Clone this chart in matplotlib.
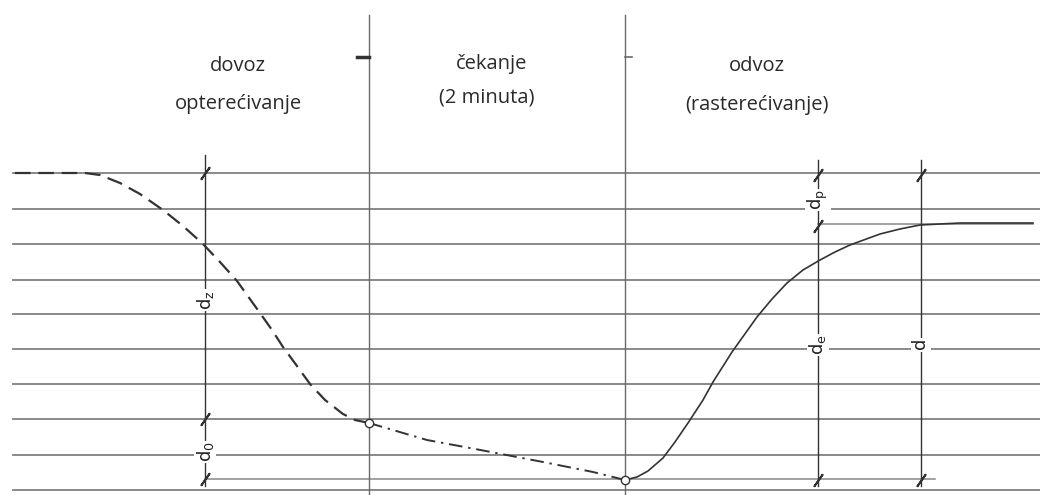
import matplotlib
matplotlib.use("Agg")
import matplotlib.pyplot as plt

# drawing units = pixels of the original sheet (x to the right, y downwards)
grid_y = [173, 209, 244, 280, 314, 349, 384, 419, 455, 490]
grid_x0, grid_x1 = 13, 1040

# loading (dashed), waiting (dash-dot), unloading (solid)
load_x = [15, 85, 100, 120, 140, 163, 183, 203, 220, 237, 260, 272, 283, 297, 310, 325, 343, 355, 369]
load_y = [173, 173, 175, 183, 194, 210, 226, 244, 262, 281, 313, 330, 347, 366, 384, 400, 414, 420, 423]
wait_x = [369, 427, 470, 543, 593, 625]
wait_y = [423, 440, 448, 462, 472, 480]
unload_x = [625, 637, 648, 663, 675, 688, 703, 713, 732, 757, 772, 787, 803, 820, 835,
            850, 880, 900, 920, 940, 960, 1033]
unload_y = [480, 477, 471, 458, 442, 423, 400, 382, 352, 317, 299, 283, 270, 260, 252,
            245, 234, 229, 225, 224, 223, 223]

# phase borders
phase_x = [369, 625]
phase_top, phase_bottom = 15, 495
phase_lines = ["dovoz", "opterećivanje", "čekanje", "(2 minuta)", "odvoz", "(rasterećivanje)"]
phase_line_x = [238, 238, 492, 487, 757, 757]
phase_line_y = [66, 104, 64, 98, 66, 105]

# dimension lines: x, top, bottom, tick positions
dims = [
    (205, 155, 486, [173, 419, 479]),
    (818, 160, 486, [175, 226, 480]),
    (921, 160, 486, [175, 480]),
]
dim_labels = [r"$\mathrm{d_z}$", r"$\mathrm{d_0}$", r"$\mathrm{d_p}$", r"$\mathrm{d_e}$", r"$\mathrm{d}$"]
dim_label_x = [205, 205, 818, 818, 921]
dim_label_y = [300, 452, 200, 345, 345]

# extra partial levels
extra_levels = [(205, 935, 479), (818, 1033, 224)]

grey = "#6a6a6a"
dark = "#333333"

fig = plt.figure(figsize=(10.4, 4.95), dpi=100)
ax = fig.add_axes([0, 0, 1, 1])
ax.set_xlim(0, 1040)
ax.set_ylim(495, 0)
ax.axis("off")

for y in grid_y:
    ax.plot([grid_x0, grid_x1], [y, y], color=grey, lw=1.3, alpha=0.85)
for x0, x1, y in extra_levels:
    ax.plot([x0, x1], [y, y], color=grey, lw=1.1, alpha=0.8)

for x in phase_x:
    ax.plot([x, x], [phase_top, phase_bottom], color=grey, lw=1.0)
ax.plot([357, 369], [57, 57], color=dark, lw=2.5)
ax.plot([625, 632], [57, 57], color=grey, lw=1.2)

for text, x, y in zip(phase_lines, phase_line_x, phase_line_y):
    ax.text(x, y, text, ha="center", va="center", fontsize=14.5,
            family="Open Sans", color="#2a2a2a")

for x, y0, y1, ticks in dims:
    ax.plot([x, x], [y0, y1], color=dark, lw=1.0)
    ax.plot([x] * len(ticks), ticks, ls="none", marker=(2, 2, -35),
            ms=11, mew=1.4, color=dark)

for text, x, y in zip(dim_labels, dim_label_x, dim_label_y):
    ax.text(x, y, text, ha="center", va="center", rotation=90, fontsize=13,
            color="#222222", bbox=dict(fc="white", ec="none", pad=0.6))

line, = ax.plot(load_x, load_y, color=dark, lw=1.6)
line.set_dashes((7, 3.5))
line, = ax.plot(wait_x, wait_y, color=dark, lw=1.4)
line.set_dashes((7, 3, 1.2, 3))
ax.plot(unload_x, unload_y, color=dark, lw=1.2)

ax.plot([wait_x[0], wait_x[-1]], [wait_y[0], wait_y[-1]], ls="none", marker="o",
        ms=6, mfc="white", mec=dark, mew=1.0)

fig.savefig("out.png", dpi=100, facecolor="white")
